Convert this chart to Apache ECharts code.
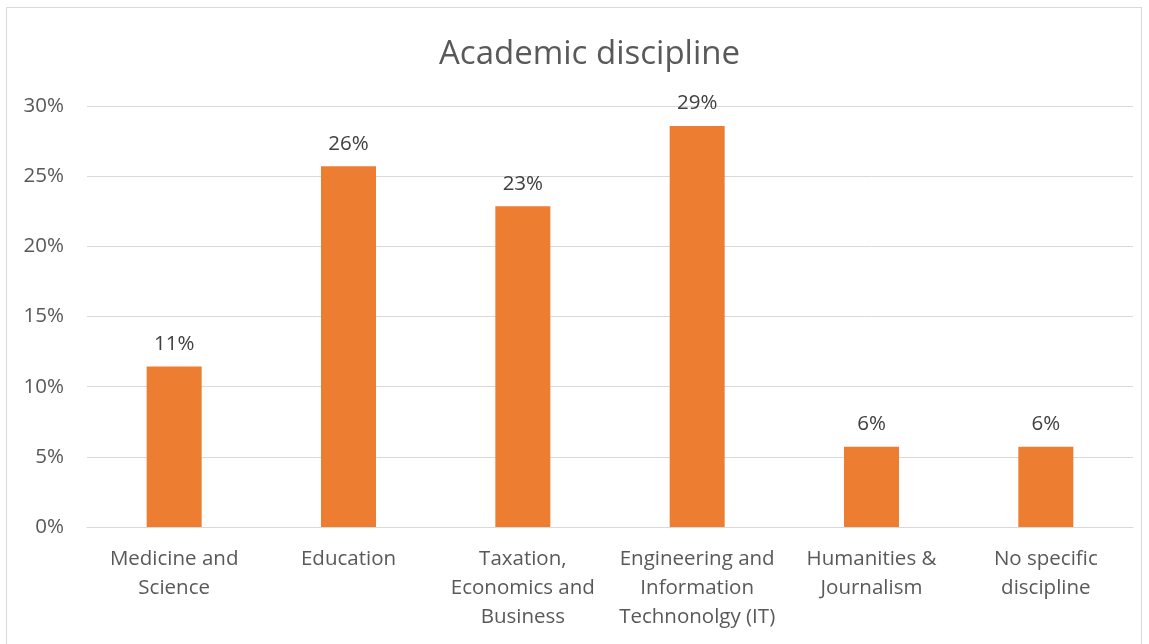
<!DOCTYPE html>
<html><head><meta charset="utf-8">
<script src="https://cdn.jsdelivr.net/npm/echarts@6/dist/echarts.min.js"></script>
<style>
html,body{margin:0;padding:0;background:#fff;overflow:hidden;}
#frame{position:absolute;left:6px;top:7px;width:1136px;height:650px;border:1px solid #d9d9d9;box-sizing:border-box;}
#chart{position:absolute;left:0;top:0;width:1149px;height:644px;}
</style></head>
<body>
<div id="frame"></div>
<div id="chart"></div>
<script>
const categories = ["Medicine and\nScience", "Education", "Taxation,\nEconomics and\nBusiness", "Engineering and\nInformation\nTechnonolgy (IT)", "Humanities &\nJournalism", "No specific\ndiscipline"];
const values = [0.1143, 0.2571, 0.2286, 0.2857, 0.0571, 0.0571];
const yTicks = [0, 0.05, 0.10, 0.15, 0.20, 0.25, 0.30];

const chart = echarts.init(document.getElementById('chart'), null, {renderer: 'canvas'});
const font = '"Open Sans", "Noto Sans", sans-serif';
chart.setOption({
  animation: false,
  title: {
    text: 'Academic discipline', left: 434, top: 33,
    textStyle: {fontFamily: font, fontSize: 33, fontWeight: 'normal', color: '#595959'}
  },
  grid: {left: 87, right: 16, top: 106, bottom: 117, containLabel: false},
  xAxis: {
    type: 'category', data: categories,
    axisLine: {show: true, lineStyle: {color: '#d9d9d9', width: 1}},
    axisTick: {show: false},
    axisLabel: {fontFamily: font, fontSize: 20.5, color: '#595959', lineHeight: 29, margin: 18, interval: 0}
  },
  yAxis: {
    type: 'value', min: 0, max: 0.30, interval: 0.05,
    axisLine: {show: false}, axisTick: {show: false},
    splitLine: {lineStyle: {color: '#d9d9d9', width: 1}},
    axisLabel: {fontFamily: font, fontSize: 20.5, color: '#595959', margin: 23,
      formatter: v => Math.round(v * 100) + '%'}
  },
  series: [{
    type: 'bar', data: values, barWidth: 55,
    itemStyle: {color: '#ed7d31'},
    label: {show: true, position: 'top', distance: 12, fontFamily: font, fontSize: 20.5, color: '#404040',
      formatter: p => Math.round(p.value * 100) + '%'}
  }]
});
</script>
</body></html>
